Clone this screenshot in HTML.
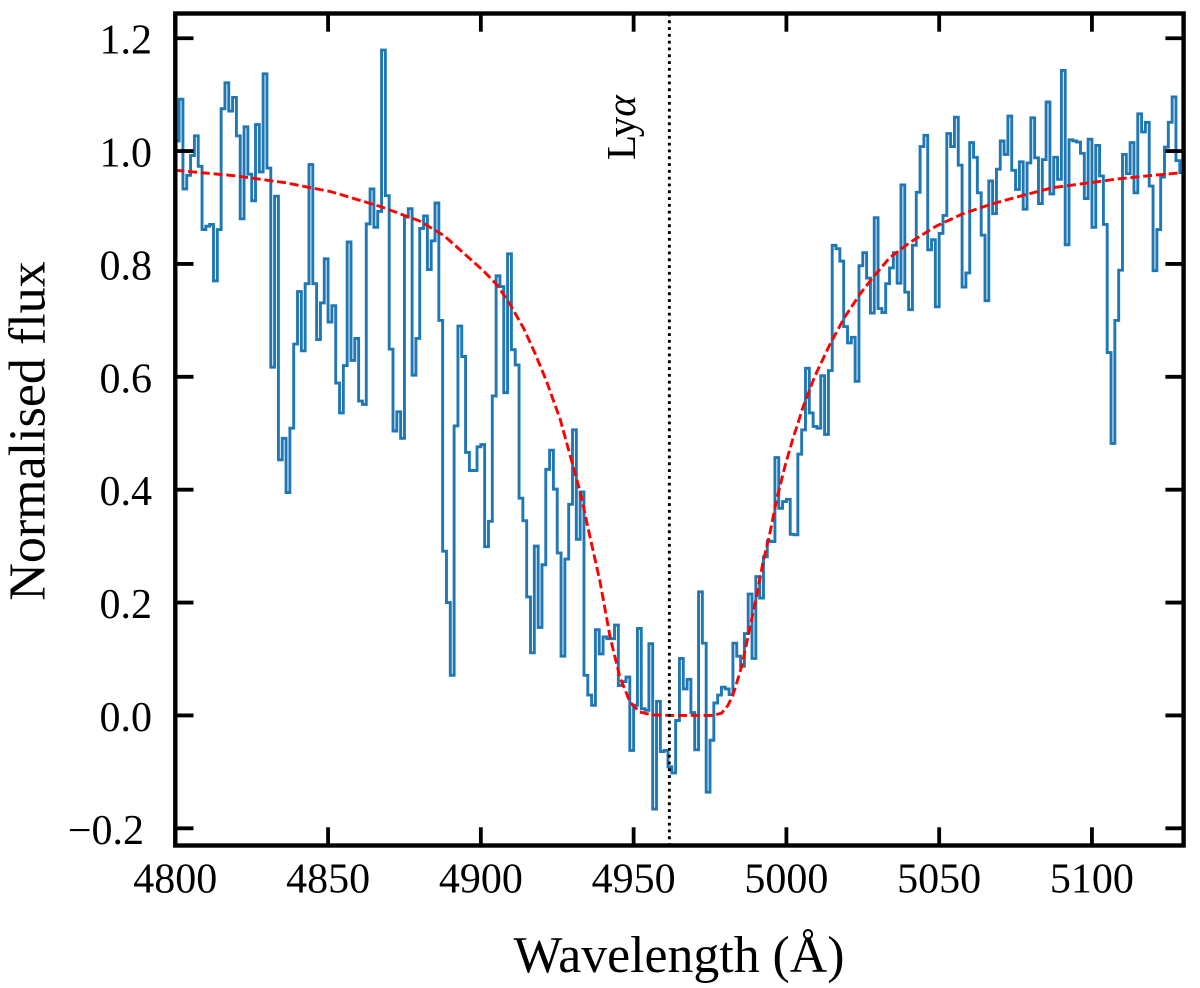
<!DOCTYPE html>
<html lang="en">
<head>
<meta charset="utf-8">
<title>Normalised flux vs wavelength</title>
<style>
html,body{margin:0;padding:0;background:#fff;width:1200px;height:988px;overflow:hidden}
svg{display:block}
text{font-family:"Liberation Serif","DejaVu Serif",serif;fill:#000}
</style>
</head>
<body>
<svg id="chart" xmlns="http://www.w3.org/2000/svg" width="1200" height="988" viewBox="0 0 1200 988">
  <rect x="0" y="0" width="1200" height="988" fill="#fff"/>
  <defs>
    <clipPath id="plot-clip"><rect x="175.3" y="13.5" width="1008.3" height="832"/></clipPath>
  </defs>
  <g id="series" clip-path="url(#plot-clip)"></g>
  <g id="axes"></g>
  <text x="679" y="972" font-size="51.8" text-anchor="middle">Wavelength (Å)</text>
  <text transform="translate(44.5,431) rotate(-90)" font-size="52" text-anchor="middle">Normalised flux</text>
</svg>
<script>
const xTickValues = [4800, 4850, 4900, 4950, 5000, 5050, 5100];
const xTickLabels = ["4800", "4850", "4900", "4950", "5000", "5050", "5100"];
const yTickValues = [-0.2, 0, 0.2, 0.4, 0.6, 0.8, 1.0, 1.2];
const yTickLabels = ["\u22120.2", "0.0", "0.2", "0.4", "0.6", "0.8", "1.0", "1.2"];
const xLimits = [4800, 5130];
const yLimits = [-0.2305, 1.2438];
const lineCentre = 4961.7;
const binStart = 4800;
const binWidth = 1.25;
const fluxValues = [
1.018,1.092,.933,.957,.992,1.027,.973,.861,.867,.870,
.770,.861,1.075,1.121,1.071,1.095,1.027,.880,1.043,.959,
.912,1.047,.963,1.137,.970,.617,.920,.453,.491,.395,
.509,.658,.751,.646,.765,.976,.765,.666,.731,.809,
.697,.726,.589,.536,.620,.839,.629,.668,.557,.551,
.871,.933,.865,.893,1.179,.921,.649,.504,.538,.491,
.883,.898,.603,.668,.863,.885,.790,.841,.908,.700,
.291,.200,.071,.513,.690,.636,.466,.434,.434,.476,
.480,.299,.344,.566,.779,.760,.572,.818,.648,.621,
.385,.345,.210,.111,.300,.156,.267,.436,.470,.401,
.288,.105,.277,.374,.506,.312,.396,.071,.036,.018,
.152,.109,.139,.136,.136,.160,.053,.060,.068,-.062,
.018,.154,.012,.009,.127,-.166,.025,-.064,-.062,-.091,
-.102,-.009,.101,.047,.064,.005,-.061,.219,.128,-.136,
-.044,.022,.036,.050,.047,.037,.128,.105,.087,.145,
.215,.101,.246,.208,.281,.309,.308,.457,.367,.379,
.383,.321,.320,.463,.506,.615,.536,.512,.509,.602,
.498,.611,.833,.827,.805,.689,.660,.670,.592,.797,
.820,.775,.713,.882,.721,.714,.765,.793,.820,.766,
.940,.750,.719,.833,.927,1.008,1.028,.825,.843,.724,
.854,.886,1.031,1.008,1.060,.975,.759,.784,1.015,.989,
.926,.851,.735,.947,.889,.968,1.018,.994,1.062,.966,
.932,.981,.897,.979,1.059,.988,.907,.985,1.087,.924,
.989,.950,1.143,.834,1.020,1.018,1.016,.996,.916,1.021,
.865,1.010,.956,.870,.643,.482,.700,.789,.994,.960,
1.015,.926,1.066,1.034,1.051,.938,.788,.861,.954,1.007,
1.051,1.096,.983,.962
];
const modelWavelengths = [4800,4820,4836,4851,4867,4880,4888,4896.5,4901,4905.3,4909.6,4914,4917.7,4921.5,4926,4929,4932.5,4935.7,4939,4942.3,4945.5,4948.8,4952,4956,4962,4970,4976,4978.8,4980.9,4982.5,4984,4985.5,4988,4990.2,4992.3,4994.6,4996.8,4999.5,5002,5005.5,5009.3,5014.2,5019,5024,5028.3,5033.8,5040.4,5049,5057.8,5066.5,5075,5087,5098,5109,5120,5130];
const modelFlux = [.966,.956,.944,.928,.902,.876,.850,.809,.787,.763,.728,.686,.642,.592,.524,.465,.396,.317,.237,.139,.068,.024,.006,.001,0,0,0,.004,.018,.036,.062,.09,.154,.210,.270,.323,.382,.441,.488,.547,.601,.657,.705,.746,.776,.811,.838,.867,.889,.905,.918,.935,.943,.951,.957,.962];

const NS = "http://www.w3.org/2000/svg";
const plotLeft = 175.3, plotRight = 1183.6, plotTop = 13.5, plotBottom = 845.5;
function xScale(v) { return plotLeft + (v - xLimits[0]) / (xLimits[1] - xLimits[0]) * (plotRight - plotLeft); }
function yScale(v) { return plotBottom - (v - yLimits[0]) / (yLimits[1] - yLimits[0]) * (plotBottom - plotTop); }
function make(tag) { return document.createElementNS(NS, tag); }
function setLine(el, x1, y1, x2, y2) {
  el.setAttribute("x1", x1); el.setAttribute("y1", y1);
  el.setAttribute("x2", x2); el.setAttribute("y2", y2);
  el.setAttribute("stroke", "#000");
  el.setAttribute("stroke-width", "3.8");
}
const seriesGroup = document.getElementById("series");
const axesGroup = document.getElementById("axes");

// step spectrum
let stepD = "";
fluxValues.forEach(function (f, k) {
  const x0 = xScale(binStart + k * binWidth).toFixed(2);
  const x1 = xScale(binStart + (k + 1) * binWidth).toFixed(2);
  const y = yScale(f).toFixed(2);
  stepD += (k === 0 ? "M" : "L") + x0 + " " + y + "L" + x1 + " " + y;
});
const stepPath = make("path");


stepPath.setAttribute("d", stepD);
stepPath.setAttribute("fill", "none");
stepPath.setAttribute("stroke", "#1f77b4");
stepPath.setAttribute("stroke-width", "2.9");
stepPath.setAttribute("stroke-linejoin", "miter");
seriesGroup.appendChild(stepPath);

// model curve
let modelD = "";
modelWavelengths.forEach(function (w, i) {
  modelD += (i === 0 ? "M" : "L") + xScale(w).toFixed(2) + " " + yScale(modelFlux[i]).toFixed(2);
});
const modelPath = make("path");


modelPath.setAttribute("d", modelD);
modelPath.setAttribute("fill", "none");
modelPath.setAttribute("stroke", "#ff0000");
modelPath.setAttribute("stroke-width", "2.9");
modelPath.setAttribute("stroke-dasharray", "9 3.8");
modelPath.setAttribute("stroke-linejoin", "round");
seriesGroup.appendChild(modelPath);

// Lya marker
const markerLine = make("line");


markerLine.setAttribute("x1", xScale(lineCentre));
markerLine.setAttribute("x2", xScale(lineCentre));
markerLine.setAttribute("y1", plotTop);
markerLine.setAttribute("y2", plotBottom);
markerLine.setAttribute("stroke", "#000");
markerLine.setAttribute("stroke-width", "2.9");
markerLine.setAttribute("stroke-dasharray", "2.9 3.9");
seriesGroup.appendChild(markerLine);

const markerLabel = make("text");


markerLabel.setAttribute("transform", "translate(635,160) rotate(-90)");
markerLabel.setAttribute("font-size", "41");
markerLabel.appendChild(document.createTextNode("Ly"));
const alphaGlyph = make("tspan");
alphaGlyph.setAttribute("font-style", "italic");
alphaGlyph.textContent = "\u03b1";
markerLabel.appendChild(alphaGlyph);
axesGroup.appendChild(markerLabel);

// x ticks
xTickValues.forEach(function (v, i) {
  const x = xScale(v);
  const bottomTick = make("line");
  
  
  setLine(bottomTick, x, plotBottom, x, plotBottom - 18.2);
  axesGroup.appendChild(bottomTick);
  const topTick = make("line");
  
  
  setLine(topTick, x, plotTop, x, plotTop + 18.2);
  axesGroup.appendChild(topTick);
  const label = make("text");
  
  
  label.setAttribute("x", x);
  label.setAttribute("y", 892.5);
  label.setAttribute("font-size", "42");
  label.setAttribute("text-anchor", "middle");
  label.textContent = xTickLabels[i];
  axesGroup.appendChild(label);
});

// y ticks
yTickValues.forEach(function (v, i) {
  const y = yScale(v);
  const leftTick = make("line");
  
  
  setLine(leftTick, plotLeft, y, plotLeft + 18.2, y);
  axesGroup.appendChild(leftTick);
  const rightTick = make("line");
  
  
  setLine(rightTick, plotRight, y, plotRight - 18.2, y);
  axesGroup.appendChild(rightTick);
  const label = make("text");
  
  
  label.setAttribute("x", v < 0 ? 144 : 152);
  label.setAttribute("y", y + 15.5);
  label.setAttribute("font-size", "42");
  label.setAttribute("text-anchor", "end");
  label.textContent = yTickLabels[i];
  axesGroup.appendChild(label);
});

// frame
const frame = make("rect");


frame.setAttribute("x", plotLeft);
frame.setAttribute("y", plotTop);
frame.setAttribute("width", plotRight - plotLeft);
frame.setAttribute("height", plotBottom - plotTop);
frame.setAttribute("fill", "none");
frame.setAttribute("stroke", "#000");
frame.setAttribute("stroke-width", "4.4");
axesGroup.appendChild(frame);
</script>
</body>
</html>
